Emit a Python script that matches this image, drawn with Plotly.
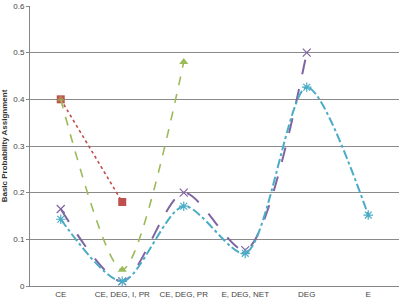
import plotly.graph_objects as go

categories = ["CE", "CE, DEG, I, PR", "CE, DEG, PR", "E, DEG, NET", "DEG", "E"]
red_vals = [0.40, 0.18, None, None, None, None]
green_vals = [0.40, 0.035, 0.48, None, None, None]
purple_vals = [0.165, 0.01, 0.20, 0.077, 0.50, None]
cyan_vals = [0.143, 0.01, 0.171, 0.07, 0.426, 0.152]
y_ticks = [0, 0.1, 0.2, 0.3, 0.4, 0.5, 0.6]

fig = go.Figure()
fig.add_trace(go.Scatter(x=categories, y=purple_vals, mode="lines+markers",
    line=dict(color="#8064A2", width=2, dash="longdash", shape="spline", smoothing=0.8),
    marker=dict(symbol="x-thin", size=8, line=dict(color="#8064A2", width=1.2)), connectgaps=False))
fig.add_trace(go.Scatter(x=categories, y=cyan_vals, mode="lines+markers",
    line=dict(color="#4BACC6", width=2, dash="dashdot", shape="spline", smoothing=0.8),
    marker=dict(symbol="asterisk-open", size=8, line=dict(color="#4BACC6", width=1.2))))
fig.add_trace(go.Scatter(x=categories, y=red_vals, mode="lines+markers",
    line=dict(color="#C0504D", width=1.6, dash="dot"),
    marker=dict(symbol="square", size=8, color="#C0504D")))
fig.add_trace(go.Scatter(x=categories, y=green_vals, mode="lines+markers",
    line=dict(color="#9BBB59", width=1.6, dash="dash", shape="spline", smoothing=0.8),
    marker=dict(symbol="triangle-up", size=8, color="#9BBB59", opacity=[0.5, 1, 1, 1, 1, 1])))

font_family = "Liberation Sans Narrow, Liberation Sans, Arial"
fig.update_layout(
    width=400, height=306,
    margin=dict(l=30, r=1, t=6, b=20),
    paper_bgcolor="white", plot_bgcolor="white",
    showlegend=False,
    font=dict(family=font_family, size=8, color="#444444"),
    xaxis=dict(type="category", showgrid=False, showline=True, linecolor="#868686",
               linewidth=1, ticks="", tickfont=dict(size=8, color="#444444"),
               range=[-0.5, 5.5]),
    yaxis=dict(range=[0, 0.6], tickvals=y_ticks, ticktext=["0", "0.1", "0.2", "0.3", "0.4", "0.5", "0.6"],
               showgrid=True, gridcolor="#8a8a8a", gridwidth=1, showline=True, linecolor="#868686",
               zeroline=False, ticks="outside", ticklen=3, tickcolor="#868686",
               tickfont=dict(size=8, color="#444444"),
               title=dict(text="<b>Basic Probability Assignment</b>", font=dict(size=8, color="#333333"), standoff=5)),
)
fig.write_html("out.html", config={"displayModeBar": False},
               post_script="document.body.style.margin='0';document.body.style.overflow='hidden';")
